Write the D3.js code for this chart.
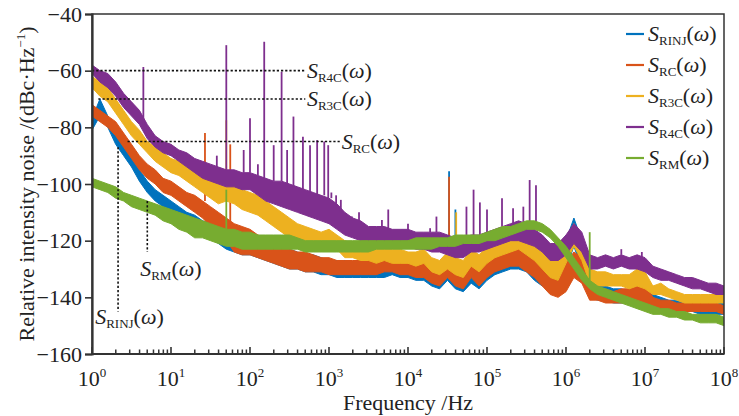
<!DOCTYPE html>
<html>
<head>
<meta charset="utf-8">
<script src="https://cdn.jsdelivr.net/npm/d3@7"></script>
<style>
  body { margin: 0; background: #fff; }
  svg { display: block; }
  text { font-family: "Liberation Serif", "DejaVu Serif", serif; fill: #222; }
</style>
</head>
<body>
<svg id="chart" width="739" height="416"></svg>
<script>
// sampling grid, log10 of frequency in Hz
const logFreq = [
  0.0, 0.1, 0.2, 0.3, 0.4, 0.5, 0.6, 0.7, 0.8, 0.9,
  1.0, 1.1, 1.2, 1.3, 1.4, 1.5, 1.6, 1.7, 1.8, 1.9,
  2.0, 2.1, 2.2, 2.3, 2.4, 2.5, 2.6, 2.7, 2.8, 2.9,
  3.0, 3.1, 3.2, 3.3, 3.4, 3.5, 3.6, 3.7, 3.8, 3.9,
  4.0, 4.1, 4.2, 4.3, 4.4, 4.5, 4.6, 4.7, 4.8, 4.9,
  5.0, 5.1, 5.2, 5.3, 5.4, 5.5, 5.6, 5.7, 5.8, 5.9,
  6.0, 6.1, 6.2, 6.3, 6.4, 6.5, 6.6, 6.7, 6.8, 6.9,
  7.0, 7.1, 7.2, 7.3, 7.4, 7.5, 7.6, 7.7, 7.8, 7.9, 8.0
];

// upper / lower edge of each noise trace (dBc/Hz)
const rinjHi = [
  -77, -70, -76, -82, -86, -90, -95, -99, -102, -104,
  -106, -108, -110, -111, -113, -114, -116, -117, -118, -118,
  -118, -119, -120, -121, -122, -123, -124, -125, -125, -126,
  -127, -127, -127, -128, -128, -128, -128, -127, -127, -128,
  -128, -129, -129, -130, -131, -127, -130, -131, -129, -131,
  -128, -126, -125, -124, -124, -126, -128, -130, -128, -126,
  -120, -112, -120, -134, -136, -136, -137, -137, -138, -136,
  -134, -139, -140, -141, -141, -141, -141, -142, -142, -142, -142
];
const rinjLo = [
  -81, -76, -80, -86, -90, -94, -99, -103, -106, -108,
  -110, -112, -114, -116, -118, -119, -121, -123, -124, -125,
  -125, -126, -127, -128, -129, -130, -130, -131, -131, -132,
  -132, -133, -133, -133, -133, -133, -133, -133, -132, -133,
  -133, -134, -134, -136, -137, -134, -137, -138, -135, -137,
  -134, -132, -131, -130, -130, -131, -134, -136, -136, -134,
  -130, -122, -130, -140, -141, -141, -142, -142, -142, -141,
  -142, -143, -144, -145, -145, -145, -145, -146, -146, -146, -146
];
const rcHi = [
  -72, -74, -76, -78, -82, -86, -90, -93, -95, -98,
  -99, -101, -103, -104, -106, -108, -110, -112, -114, -115,
  -116, -118, -119, -121, -122, -123, -124, -124, -125, -126,
  -126, -127, -127, -127, -127, -127, -127, -126, -126, -127,
  -127, -128, -128, -129, -130, -126, -129, -130, -127, -130,
  -127, -124, -122, -121, -121, -123, -126, -129, -133, -134,
  -128, -124, -126, -135, -137, -137, -138, -137, -137, -136,
  -135, -140, -141, -141, -142, -142, -142, -142, -142, -142, -143
];
const rcLo = [
  -76, -78, -80, -83, -87, -91, -95, -98, -100, -103,
  -104, -106, -108, -110, -112, -115, -118, -120, -124, -125,
  -125, -126, -127, -128, -129, -130, -130, -131, -131, -131,
  -132, -132, -132, -132, -132, -132, -132, -131, -131, -132,
  -132, -133, -133, -135, -136, -133, -136, -137, -133, -136,
  -133, -131, -130, -129, -129, -131, -133, -136, -139, -140,
  -138, -133, -135, -141, -141, -142, -142, -142, -142, -142,
  -142, -143, -144, -144, -145, -145, -145, -145, -145, -145, -146
];
const r3cHi = [
  -62, -64, -66, -70, -74, -78, -81, -85, -87, -89,
  -91, -92, -93, -95, -97, -98, -99, -99, -100, -102,
  -103, -104, -106, -108, -110, -112, -114, -115, -116, -117,
  -116, -118, -120, -121, -122, -122, -123, -122, -123, -123,
  -124, -124, -123, -126, -127, -124, -126, -127, -123, -125,
  -122, -120, -119, -118, -117, -119, -121, -124, -127, -127,
  -120, -114, -118, -130, -131, -131, -132, -132, -132, -130,
  -131, -136, -135, -137, -138, -139, -139, -139, -139, -139, -139
];
const r3cLo = [
  -66, -69, -71, -75, -79, -83, -86, -89, -92, -94,
  -96, -97, -99, -101, -103, -105, -107, -106, -107, -109,
  -110, -111, -113, -115, -117, -119, -121, -122, -123, -123,
  -122, -123, -126, -126, -127, -127, -128, -127, -128, -128,
  -128, -129, -128, -131, -132, -130, -132, -133, -129, -131,
  -128, -126, -125, -124, -123, -125, -127, -130, -133, -134,
  -128, -122, -127, -135, -136, -136, -136, -136, -137, -136,
  -137, -139, -139, -140, -141, -142, -142, -142, -142, -142, -142
];
const r4cHi = [
  -58, -60, -61, -64, -68, -71, -74, -79, -83, -85,
  -86, -88, -89, -91, -92, -93, -94, -95, -95, -96,
  -96, -97, -98, -99, -99, -100, -101, -102, -103, -104,
  -105, -107, -110, -112, -113, -115, -115, -115, -116, -116,
  -116, -117, -117, -117, -117, -118, -119, -119, -118, -118,
  -117, -116, -115, -114, -113, -114, -116, -118, -121, -121,
  -118, -114, -117, -125, -126, -125, -126, -125, -126, -125,
  -126, -129, -130, -131, -132, -133, -133, -134, -135, -135, -136
];
const r4cLo = [
  -61, -64, -66, -69, -73, -76, -79, -84, -87, -89,
  -90, -92, -94, -96, -98, -99, -100, -101, -101, -102,
  -102, -104, -106, -107, -108, -109, -110, -111, -112, -113,
  -114, -116, -118, -119, -120, -121, -121, -121, -122, -122,
  -122, -123, -123, -124, -124, -125, -126, -126, -124, -124,
  -123, -122, -121, -120, -120, -121, -122, -124, -127, -127,
  -125, -121, -124, -130, -130, -129, -130, -129, -130, -130,
  -131, -133, -134, -134, -135, -136, -137, -137, -138, -139, -139
];
const rmHi = [
  -98, -99, -100, -101, -103, -104, -105, -106, -107, -108,
  -109, -110, -111, -112, -113, -114, -115, -116, -116, -117,
  -117, -118, -118, -118, -118, -118, -119, -120, -120, -120,
  -120, -120, -120, -120, -120, -120, -120, -120, -120, -120,
  -120, -119, -119, -119, -119, -119, -118, -118, -118, -118,
  -117, -116, -115, -115, -114, -113, -113, -114, -116, -119,
  -122, -126, -130, -134, -136, -137, -138, -139, -140, -141,
  -142, -143, -144, -144, -145, -145, -146, -146, -146, -146, -147
];
const rmLo = [
  -101, -102, -103, -105, -106, -108, -109, -110, -111, -113,
  -114, -116, -117, -119, -119, -120, -121, -122, -122, -123,
  -123, -123, -123, -123, -123, -123, -123, -124, -124, -124,
  -124, -124, -124, -124, -124, -124, -123, -123, -123, -123,
  -123, -123, -123, -123, -122, -122, -122, -121, -121, -121,
  -120, -120, -119, -118, -117, -116, -116, -117, -119, -122,
  -126, -130, -134, -137, -139, -140, -141, -142, -143, -144,
  -145, -146, -146, -147, -147, -148, -148, -149, -149, -149, -150
];

// narrow spurs: [log10 f, peak dBc/Hz]
const rinjSpikes = [[4.52, -95.5], [4.60, -109]];
const rcSpikes = [[1.43, -82], [1.75, -86], [4.52, -97.4]];
const r3cSpikes = [[1.70, -77.5], [4.61, -110]];
const r4cSpikes = [
  [0.65, -58.7], [1.58, -90], [1.70, -51], [1.92, -88], [2.0, -76.8], [2.1, -93],
  [2.18, -49.8], [2.30, -86.3], [2.40, -60.4], [2.47, -88], [2.55, -76.2],
  [2.67, -83.3], [2.76, -86.3], [2.85, -84.5], [2.94, -85], [2.99, -86.3],
  [3.03, -103], [3.09, -104], [3.15, -105.6], [3.29, -111.5], [3.38, -110],
  [3.67, -112.7], [3.75, -109], [4.0, -114], [4.28, -115.6], [4.36, -111.5],
  [4.74, -108], [4.83, -102], [4.91, -106.5], [5.0, -109], [5.19, -105],
  [5.33, -108.6], [5.46, -108], [5.54, -98.6], [5.62, -100.4], [6.70, -123], [6.96, -124]
];
const rmSpikes = [[1.70, -102], [6.30, -117]];

const seriesNames = ["RINJ", "RC", "R3C", "R4C", "RM"];
const seriesColors = ["#0072BD", "#D95319", "#EDB120", "#7E2F8E", "#77AC30"];

// dotted guide lines [logF1, dB1, logF2, dB2] and their labels
const guideLines = [
  [0.0, -60, 2.70, -60],
  [0.08, -70, 2.70, -70],
  [0.45, -85, 3.14, -85],
  [0.33, -87, 0.33, -145],
  [0.70, -106, 0.70, -124]
];
const guideLabels = [
  ["R4C", 2.72, -60],
  ["R3C", 2.72, -70],
  ["RC", 3.16, -85],
  ["RM", 0.61, -130],
  ["RINJ", 0.04, -147]
];

const yTicks = [-160, -140, -120, -100, -80, -60, -40];
const xDecades = [0, 1, 2, 3, 4, 5, 6, 7, 8];

const svg = d3.select("#chart");

const x = d3.scaleLog().domain([1, 1e8]).range([92, 724]);
const y = d3.scaleLinear().domain([-160, -40]).range([354, 14]);

const series = [
  { hi: rinjHi, lo: rinjLo, spikes: rinjSpikes },
  { hi: rcHi, lo: rcLo, spikes: rcSpikes },
  { hi: r3cHi, lo: r3cLo, spikes: r3cSpikes },
  { hi: r4cHi, lo: r4cLo, spikes: r4cSpikes },
  { hi: rmHi, lo: rmLo, spikes: rmSpikes }
].map((d, i) => ({ ...d, name: seriesNames[i], color: seriesColors[i] }));

svg.append("clipPath").attr("id", "plot-clip")
  .append("rect")
    .attr("x", x(1)).attr("y", y(-40))
    .attr("width", x(1e8) - x(1)).attr("height", y(-160) - y(-40));

const plot = svg.append("g").attr("clip-path", "url(#plot-clip)");

const band = (s) => d3.area()
    .x((d, i) => x(10 ** logFreq[i]))
    .y0((d, i) => y(s.lo[i]))
    .y1((d, i) => y(s.hi[i]));

for (const s of series) {
  const g = plot.append("g");
  g.append("path")
      .datum(logFreq)
      .attr("d", band(s))
      .attr("fill", s.color)
      .attr("stroke", s.color)
      .attr("stroke-width", 1)
      .attr("stroke-linejoin", "round");

  g.selectAll("line")
    .data(s.spikes)
    .join("line")
      .attr("x1", d => x(10 ** d[0]))
      .attr("x2", d => x(10 ** d[0]))
      .attr("y1", d => y(d[1]))
      .attr("y2", d => y(s.hi[Math.round(d[0] * 10)]))
      .attr("stroke", s.color)
      .attr("stroke-width", 1.8);
}

// dotted guides
svg.append("g")
    .attr("stroke", "#111")
    .attr("stroke-width", 1.6)
    .attr("stroke-dasharray", "2.2,2")
  .selectAll("line")
  .data(guideLines)
  .join("line")
    .attr("x1", d => x(10 ** d[0]))
    .attr("y1", d => y(d[1]))
    .attr("x2", d => x(10 ** d[2]))
    .attr("y2", d => y(d[3]));

// S_xx(ω) label with small subscript
function sLabel(sel, sub) {
  sel.append("tspan").attr("font-style", "italic").text("S");
  sel.append("tspan").attr("font-size", 13).attr("dy", 4).text(sub);
  sel.append("tspan").attr("dy", -4).text("(");
  sel.append("tspan").attr("font-style", "italic").text("ω");
  sel.append("tspan").text(")");
}

for (const [sub, e, v] of guideLabels) {
  svg.append("text")
      .attr("x", x(10 ** e))
      .attr("y", y(v) + 7)
      .attr("font-size", 22)
      .call(sLabel, sub);
}

// frame
svg.append("rect")
    .attr("x", x(1)).attr("y", y(-40))
    .attr("width", x(1e8) - x(1)).attr("height", y(-160) - y(-40))
    .attr("fill", "none")
    .attr("stroke", "#333")
    .attr("stroke-width", 1.5);

// y axis
const yAxis = svg.append("g").attr("transform", `translate(${x(1)},0)`)
  .call(d3.axisLeft(y).tickValues(yTicks).tickSize(7).tickPadding(3)
    .tickFormat(d => d3.format("d")(d).replace("-", "−")));
yAxis.select(".domain").attr("stroke", "#333").attr("stroke-width", 2.2);
yAxis.selectAll(".tick line").attr("stroke", "#333").attr("stroke-width", 1.6);
yAxis.selectAll(".tick text")
    .attr("font-family", "Liberation Serif, DejaVu Serif, serif")
    .attr("font-size", 22).attr("fill", "#222");

// x axis: inward ticks, decade labels as 10^n
const minorTicks = [];
for (const dec of xDecades.slice(0, -1)) {
  for (let m = 2; m <= 9; m++) minorTicks.push(m * 10 ** dec);
}
const xAxisG = svg.append("g").attr("transform", `translate(0,${y(-160)})`);
xAxisG.append("line")
    .attr("x1", x(1)).attr("x2", x(1e8))
    .attr("stroke", "#333").attr("stroke-width", 2.2);
xAxisG.selectAll(".minor")
  .data(minorTicks)
  .join("line")
    .attr("x1", d => x(d)).attr("x2", d => x(d))
    .attr("y1", 0).attr("y2", -4.5)
    .attr("stroke", "#333").attr("stroke-width", 1.5);
xAxisG.selectAll(".major")
  .data(xDecades)
  .join("line")
    .attr("x1", d => x(10 ** d)).attr("x2", d => x(10 ** d))
    .attr("y1", 0).attr("y2", -7)
    .attr("stroke", "#333").attr("stroke-width", 1.6);
const xLab = xAxisG.selectAll(".lab")
  .data(xDecades)
  .join("text")
    .attr("x", d => x(10 ** d))
    .attr("y", 32)
    .attr("text-anchor", "middle")
    .attr("font-size", 22);
xLab.append("tspan").text("10");
xLab.append("tspan").attr("font-size", 13).attr("dy", -9).text(d => d);

// axis titles
svg.append("text")
    .attr("x", x(1e4))
    .attr("y", 410)
    .attr("text-anchor", "middle")
    .attr("font-size", 22)
    .text("Frequency /Hz");

const yTitle = svg.append("text")
    .attr("transform", `translate(34,${(y(-40) + y(-160)) / 2}) rotate(-90)`)
    .attr("text-anchor", "middle")
    .attr("font-size", 22);
yTitle.append("tspan").text("Relative intensity noise /(dBc·Hz");
yTitle.append("tspan").attr("font-size", 13).attr("dy", -9).text("−1");
yTitle.append("tspan").attr("dy", 9).text(")");

// legend
const legend = svg.append("g")
  .selectAll("g")
  .data(series)
  .join("g")
    .attr("transform", (d, i) => `translate(626,${34 + i * 31})`);
legend.append("line")
    .attr("x1", 0).attr("x2", 18)
    .attr("stroke", d => d.color)
    .attr("stroke-width", 2.2);
legend.append("text")
    .attr("x", 22)
    .attr("y", 7)
    .attr("font-size", 22)
    .each(function(d) { d3.select(this).call(sLabel, d.name); });
</script>
</body>
</html>
